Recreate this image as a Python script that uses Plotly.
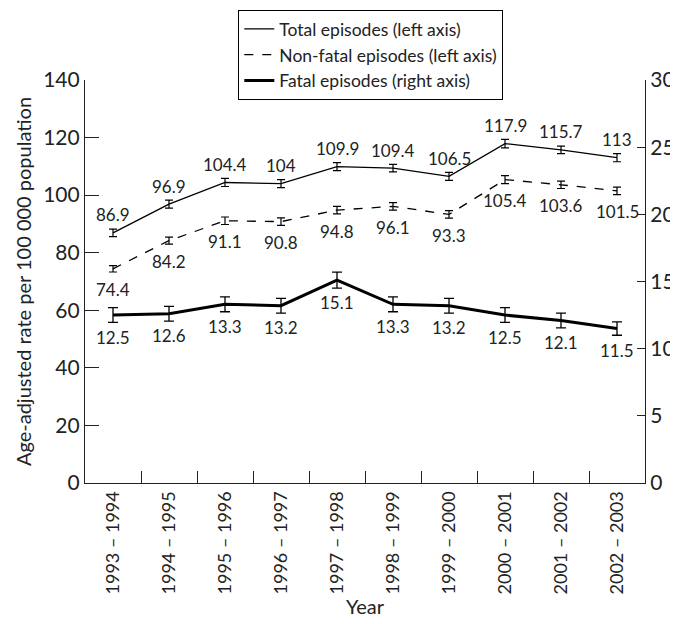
import plotly.graph_objects as go

years = ["1993 – 1994", "1994 – 1995", "1995 – 1996", "1996 – 1997", "1997 – 1998",
         "1998 – 1999", "1999 – 2000", "2000 – 2001", "2001 – 2002", "2002 – 2003"]
total = [86.9, 96.9, 104.4, 104, 109.9, 109.4, 106.5, 117.9, 115.7, 113]
total_err = [1.3, 1.4, 1.4, 1.4, 1.4, 1.3, 1.4, 1.5, 1.3, 1.4]
nonfatal = [74.4, 84.2, 91.1, 90.8, 94.8, 96.1, 93.3, 105.4, 103.6, 101.5]
nonfatal_err = [1.1, 1.2, 1.3, 1.3, 1.3, 1.3, 1.3, 1.4, 1.3, 1.3]
fatal = [12.5, 12.6, 13.3, 13.2, 15.1, 13.3, 13.2, 12.5, 12.1, 11.5]
fatal_err = [0.55, 0.55, 0.55, 0.55, 0.6, 0.55, 0.55, 0.55, 0.55, 0.5]

FONT = "Lato"
INK = "#222"
fig = go.Figure()

fig.add_trace(go.Scatter(
    x=years, y=total, name="Total episodes (left axis)", mode="lines",
    line=dict(color="black", width=1.3),
    error_y=dict(type="data", array=total_err, color="black", thickness=1.2, width=4),
))
fig.add_trace(go.Scatter(
    x=years, y=nonfatal, name="Non-fatal episodes (left axis)", mode="lines",
    line=dict(color="black", width=1.3, dash="dash"),
    error_y=dict(type="data", array=nonfatal_err, color="black", thickness=1.2, width=4),
))
fig.add_trace(go.Scatter(
    x=years, y=fatal, name="Fatal episodes (right axis)", yaxis="y2", mode="lines",
    line=dict(color="black", width=3),
    error_y=dict(type="data", array=fatal_err, color="black", thickness=1.3, width=5),
))

annotations = []
for xv, yv in zip(years, total):
    annotations.append(dict(x=xv, y=yv, xref="x", yref="y", text=str(yv), showarrow=False,
                            yshift=18, font=dict(size=17, color=INK)))
for xv, yv in zip(years, nonfatal):
    annotations.append(dict(x=xv, y=yv, xref="x", yref="y", text=str(yv), showarrow=False,
                            yshift=-21, font=dict(size=17, color=INK)))
for xv, yv in zip(years, fatal):
    annotations.append(dict(x=xv, y=yv, xref="x", yref="y2", text=str(yv), showarrow=False,
                            yshift=-22, font=dict(size=17, color=INK)))

fig.update_layout(
    width=670, height=616,
    margin=dict(l=77, r=33, t=72, b=141, autoexpand=False),
    paper_bgcolor="white", plot_bgcolor="white",
    font=dict(family=FONT, color=INK, size=19),
    showlegend=True,
    annotations=annotations,
    legend=dict(x=0.51, y=1.174, xanchor="center", yanchor="top",
                bordercolor="black", borderwidth=1.2, bgcolor="white",
                font=dict(size=17.5), tracegroupgap=0),
    xaxis=dict(
        type="category", range=[-0.5, 9.5], tickangle=-90, automargin=False,
        showline=True, linecolor=INK, linewidth=1.2,
        ticks="inside", ticklen=12, tickcolor=INK, tickson="boundaries",
        showgrid=False, zeroline=False,
        title=dict(text="Year", font=dict(size=20), standoff=0),
        tickfont=dict(size=18),
    ),
    yaxis=dict(
        range=[0, 140], dtick=20, automargin=False,
        showline=True, linecolor=INK, linewidth=1.2,
        ticks="inside", ticklen=14, tickcolor=INK,
        showgrid=False, zeroline=False,
        title=dict(text="Age-adjusted rate per 100 000 population", font=dict(size=20), standoff=6),
        tickfont=dict(size=21),
    ),
    yaxis2=dict(
        range=[0, 30], dtick=5, overlaying="y", side="right", automargin=False,
        showline=True, linecolor=INK, linewidth=1.2,
        ticks="inside", ticklen=8, tickcolor=INK,
        showgrid=False, zeroline=False,
        tickfont=dict(size=21),
    ),
)

fig.write_html("out.html")
